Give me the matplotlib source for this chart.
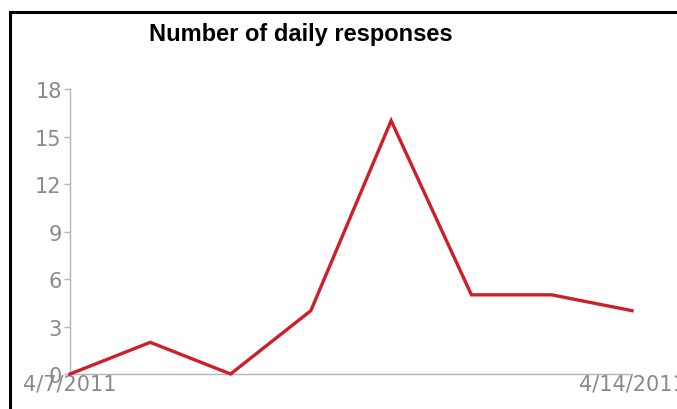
import matplotlib
matplotlib.use("Agg")
import matplotlib.pyplot as plt
from matplotlib.patches import Rectangle

# Daily response counts
dates = ["4/7/2011", "4/8/2011", "4/9/2011", "4/10/2011",
         "4/11/2011", "4/12/2011", "4/13/2011", "4/14/2011"]
responses = [0, 2, 0, 4, 16, 5, 5, 4]
y_ticks = [0, 3, 6, 9, 12, 15, 18]
title = "Number of daily responses"

W, H = 677, 410
fig = plt.figure(figsize=(W / 100, H / 100), dpi=100)
fig.patch.set_facecolor("white")

# Outer frame running off the right and bottom edges
fig.patches.append(Rectangle((10 / W, -0.1), 1.2, 1 - 13 / H + 0.1,
                             transform=fig.transFigure, fill=False,
                             edgecolor="black", linewidth=2.2, zorder=0))

ax = fig.add_axes([70 / W, 1 - 375 / H, (632 - 70) / W, (375 - 90) / H])
x = list(range(len(dates)))
ax.plot(x, responses, color="#cc1f2a", linewidth=2.4, solid_joinstyle="miter",
        clip_on=False, zorder=3)

grey = "#b4b4b4"
label_grey = "#8a8a8a"
ax.set_xlim(0, len(dates) - 1)
ax.set_ylim(0, 18)
ax.set_yticks(y_ticks)
ax.set_yticklabels([str(v) for v in y_ticks])
ax.set_xticks([0, len(dates) - 1])
ax.set_xticklabels([dates[0], dates[-1]])

for side in ("top", "right"):
    ax.spines[side].set_visible(False)
for side in ("left", "bottom"):
    ax.spines[side].set_color(grey)
    ax.spines[side].set_linewidth(1.0)

ax.tick_params(axis="y", colors=grey, labelcolor=label_grey, length=4,
               width=1, pad=2, labelsize=15)
ax.tick_params(axis="x", length=0, pad=0, labelcolor=label_grey, labelsize=15)
for lab in ax.get_yticklabels() + ax.get_xticklabels():
    lab.set_fontfamily("DejaVu Sans")

fig.text(301 / W, 1 - 34 / H, title, ha="center", va="center",
         fontsize=17, fontweight="bold", family="Liberation Sans", color="black")

fig.savefig("out.png", dpi=100)
